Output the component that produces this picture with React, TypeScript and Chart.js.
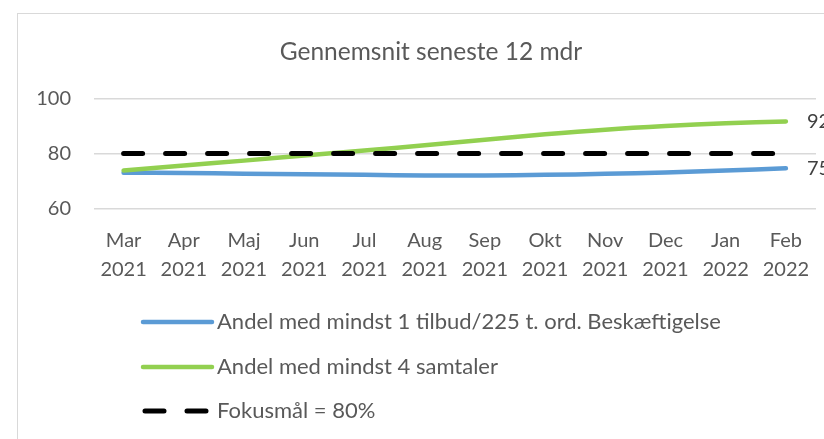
import React, { useEffect, useRef } from "react";
import { Chart, registerables } from "chart.js";

Chart.register(...registerables);

const FONT = "Lato, 'Open Sans', sans-serif";
const TEXT = "#595959";

const titleText = "Gennemsnit seneste 12 mdr";
const months = ["Mar", "Apr", "Maj", "Jun", "Jul", "Aug", "Sep", "Okt", "Nov", "Dec", "Jan", "Feb"];
const years = ["2021", "2021", "2021", "2021", "2021", "2021", "2021", "2021", "2021", "2021", "2022", "2022"];

const tilbudLabel = "Andel med mindst 1 tilbud/225 t. ord. Beskæftigelse";
const tilbud = [73.0, 72.9, 72.6, 72.4, 72.2, 72.0, 72.0, 72.2, 72.6, 73.1, 73.8, 74.6];

const samtalerLabel = "Andel med mindst 4 samtaler";
const samtaler = [73.8, 75.6, 77.4, 79.3, 81.1, 83.0, 85.0, 87.0, 88.7, 90.0, 91.0, 91.7];

const fokusLabel = "Fokusmål = 80%";
const fokus = [80, 80, 80, 80, 80, 80, 80, 80, 80, 80, 80, 80];

const yMin = 60;
const yMax = 100;
const yStep = 20;

const overlayPlugin = {
  id: "overlay",
  afterDatasetsDraw(chart: any) {
    const ctx = chart.ctx;
    ctx.save();
    // end-of-line data labels for the two measured series
    ctx.font = `20px ${FONT}`;
    ctx.fillStyle = "#404040";
    ctx.textBaseline = "middle";
    ctx.textAlign = "left";
    [0, 1].forEach((i) => {
      const meta = chart.getDatasetMeta(i);
      const data = chart.data.datasets[i].data;
      const pt = meta.data[meta.data.length - 1];
      ctx.fillText(String(Math.round(data[data.length - 1])), pt.x + 21, pt.y);
    });
    ctx.restore();
  },
  afterDraw(chart: any) {
    const ctx = chart.ctx;
    const rows = [308, 353, 397];
    const x0 = 125;
    const x1 = 194;
    ctx.save();
    chart.data.datasets.forEach((ds: any, i: number) => {
      const y = rows[i];
      ctx.beginPath();
      ctx.strokeStyle = ds.borderColor;
      ctx.lineWidth = ds.borderWidth;
      ctx.lineCap = "round";
      ctx.setLineDash(ds.borderDash || []);
      ctx.lineDashOffset = 0;
      ctx.moveTo(x0 + (ds.borderDash ? 2 : 0), y);
      ctx.lineTo(x1, y);
      ctx.stroke();
      ctx.setLineDash([]);
      ctx.font = `22px ${FONT}`;
      ctx.fillStyle = TEXT;
      ctx.textBaseline = "middle";
      ctx.textAlign = "left";
      ctx.fillText(ds.label, 199, y);
    });
    ctx.restore();
  },
};

export default function App() {
  const ref = useRef<HTMLCanvasElement | null>(null);

  useEffect(() => {
    if (!ref.current) return;
    const labels = months.map((m, i) => [m, years[i]]);
    const chart = new Chart(ref.current, {
      type: "line",
      data: {
        labels,
        datasets: [
          {
            label: tilbudLabel,
            data: tilbud,
            borderColor: "#5B9BD5",
            backgroundColor: "#5B9BD5",
            borderWidth: 4.5,
            tension: 0.4,
            pointRadius: 0,
            borderCapStyle: "round",
            order: 3,
          },
          {
            label: samtalerLabel,
            data: samtaler,
            borderColor: "#92D050",
            backgroundColor: "#92D050",
            borderWidth: 4.5,
            tension: 0.4,
            pointRadius: 0,
            borderCapStyle: "round",
            order: 2,
          },
          {
            label: fokusLabel,
            data: fokus,
            borderColor: "#000000",
            backgroundColor: "#000000",
            borderWidth: 5,
            borderDash: [19, 23],
            borderCapStyle: "round",
            tension: 0,
            pointRadius: 0,
            order: 1,
          },
        ],
      },
      options: {
        responsive: false,
        animation: false,
        devicePixelRatio: 1,
        layout: { padding: { left: 0, right: 0, top: 0, bottom: 165.7 } },
        plugins: {
          legend: { display: false },
          tooltip: { enabled: false },
          title: {
            display: true,
            text: titleText,
            color: TEXT,
            font: { family: FONT, size: 24.5, weight: "normal", lineHeight: 1.2 },
            padding: { top: 23.3, bottom: 32 },
          },
        },
        scales: {
          x: {
            offset: true,
            grid: { display: false, drawTicks: false },
            border: { display: false },
            ticks: {
              color: TEXT,
              font: { family: FONT, size: 20, lineHeight: 1.44 },
              padding: 18,
              autoSkip: false,
              maxRotation: 0,
            },
            afterFit: (s: any) => {
              s.height = 80;
            },
          },
          y: {
            min: yMin,
            max: yMax,
            grid: { color: "#d9d9d9", lineWidth: 1.5, drawTicks: false },
            border: { display: false },
            ticks: {
              stepSize: yStep,
              color: TEXT,
              font: { family: FONT, size: 20 },
              padding: 22.5,
            },
            afterFit: (s: any) => {
              s.width = 75.5;
            },
          },
          y2: {
            position: "right",
            display: true,
            grid: { display: false, drawTicks: false },
            border: { display: false },
            ticks: { display: false },
            afterFit: (s: any) => {
              s.width = 28;
            },
          },
        },
      },
      plugins: [overlayPlugin],
    } as any);
    return () => chart.destroy();
  }, []);

  return (
    <div
      style={{
        position: "fixed",
        left: 0,
        top: 0,
        width: 824,
        height: 439,
        overflow: "hidden",
        background: "#ffffff",
      }}
    >
      <div
        style={{
          position: "absolute",
          left: 17,
          top: 13,
          width: 826,
          height: 440,
          border: "1px solid #d9d9d9",
        }}
      >
        <canvas ref={ref} width={826} height={440} style={{ display: "block", width: 826, height: 440 }} />
      </div>
    </div>
  );
}
